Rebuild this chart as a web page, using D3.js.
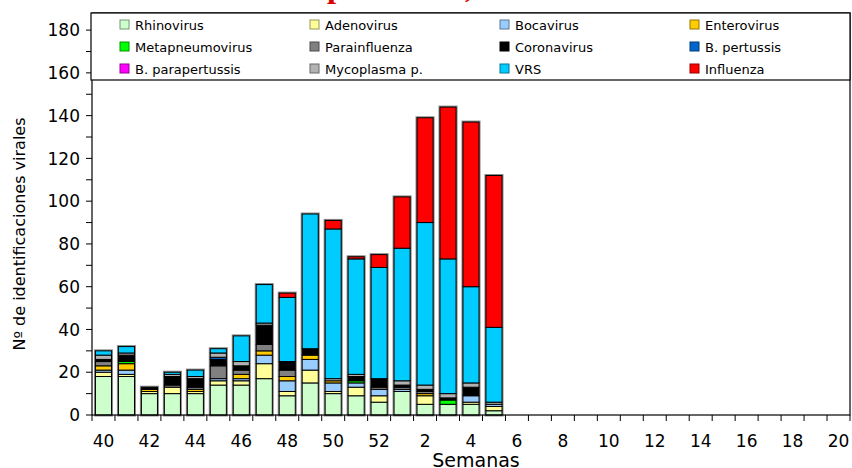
<!DOCTYPE html>
<html>
<head>
<meta charset="utf-8">
<script src="https://cdn.jsdelivr.net/npm/d3@7"></script>
<style>
  body { margin: 0; background: #fff; }
  svg { display: block; font-family: "DejaVu Sans", Verdana, sans-serif; }
</style>
</head>
<body>
<svg width="852" height="468"></svg>
<script>
// weeks on the axis (season 40 -> 20)
var weeks = [40,41,42,43,44,45,46,47,48,49,50,51,52,1,2,3,4,5,6,7,8,9,10,11,12,13,14,15,16,17,18,19,20];
var weekLabels = [40,42,44,46,48,50,52,2,4,6,8,10,12,14,16,18,20];

// counts per week, only weeks 40..5 have data
var rhinovirus      = [18,18,10,10,10,14,14,17, 9,15,10, 9, 6,11, 5, 5, 5, 2];
var adenovirus      = [ 2, 1, 1, 3, 1, 2, 2, 7, 2, 6, 1, 4, 3, 0, 4, 0, 1, 2];
var bocavirus       = [ 1, 2, 0, 0, 0, 1, 1, 4, 5, 5, 4, 2, 3, 1, 0, 0, 3, 1];
var enterovirus     = [ 2, 3, 1, 0, 1, 0, 2, 2, 2, 2, 1, 0, 0, 0, 1, 0, 0, 0];
var metapneumovirus = [ 0, 1, 0, 0, 0, 0, 0, 0, 0, 0, 0, 1, 0, 0, 0, 2, 0, 0];
var parainfluenza   = [ 2, 0, 0, 1, 1, 6, 2, 3, 3, 0, 0, 0, 1, 1, 1, 0, 0, 0];
var coronavirus     = [ 1, 3, 1, 4, 4, 3, 2, 9, 4, 3, 0, 2, 4, 1, 1, 1, 4, 0];
var pertussis       = [ 0, 0, 0, 0, 0, 1, 0, 0, 0, 0, 0, 0, 0, 0, 0, 0, 0, 0];
var parapertussis   = [ 0, 0, 0, 0, 0, 0, 0, 0, 0, 0, 0, 0, 0, 0, 0, 0, 0, 0];
var mycoplasma      = [ 2, 1, 0, 1, 1, 2, 2, 1, 0, 0, 1, 1, 0, 2, 2, 2, 2, 1];
var vrs             = [ 2, 3, 0, 1, 3, 2,12,18,30,63,70,54,52,62,76,63,45,35];
var influenza       = [ 0, 0, 0, 0, 0, 0, 0, 0, 2, 0, 4, 1, 6,24,49,71,77,71];

var seriesNames = ["Rhinovirus","Adenovirus","Bocavirus","Enterovirus","Metapneumovirus","Parainfluenza",
                   "Coronavirus","B. pertussis","B. parapertussis","Mycoplasma p.","VRS","Influenza"];
var seriesValues = [rhinovirus, adenovirus, bocavirus, enterovirus, metapneumovirus, parainfluenza,
                    coronavirus, pertussis, parapertussis, mycoplasma, vrs, influenza];
var colors = ["#ccffcc","#ffff99","#99ccff","#ffcc00","#00ff00","#808080",
              "#000000","#0066cc","#ff00ff","#b2b2b2","#00ccff","#ff0000"];

var svg = d3.select("svg");
var plotLeft = 92, plotRight = 850, plotTop = 13, plotBottom = 415;

// table for d3.stack
var table = rhinovirus.map(function(d, i) {
  var row = {week: weeks[i]};
  seriesNames.forEach(function(s, j) { row[s] = seriesValues[j][i]; });
  return row;
});
var layers = d3.stack().keys(seriesNames)(table);

var x = d3.scaleBand().domain(weeks).range([plotLeft, plotRight]).paddingInner(0.3).paddingOuter(0.15);
var xb = d3.scaleLinear().domain([0, weeks.length]).range([plotLeft, plotRight]); // category borders
var y = d3.scaleLinear().domain([0, 188]).range([plotBottom, plotTop]);

// title, cut off by the top of the picture: only the "p" tail and the comma show
var title = svg.append("text")
  .attr("y", -3)
  .attr("fill", "#dd0000")
  .style("font-family", "'Liberation Serif', serif")
  .style("font-weight", "bold")
  .style("font-size", "33px")
  .text("Detección de virus respiratorios, Comunidad de Madrid");
var tn = title.node();
var pIdx = 22, commaIdx = 32;
var span = tn.getStartPositionOfChar(commaIdx).x - tn.getStartPositionOfChar(pIdx).x;
title.style("font-size", (33 * 138 / span) + "px");
title.attr("x", 327 - tn.getStartPositionOfChar(pIdx).x);

// bar shadows
var tops = layers[layers.length - 1];
svg.append("g").selectAll("rect")
  .data(table)
  .enter().append("rect")
    .attr("x", function(d) { return x(d.week); })
    .attr("width", x.bandwidth())
    .attr("y", function(d, i) { return y(tops[i][1]); })
    .attr("height", function(d, i) { return plotBottom - y(tops[i][1]); })
    .attr("fill", "none")
    .attr("stroke", "#8a8a8a")
    .attr("stroke-width", 3);

// stacked segments
svg.append("g").selectAll("g")
  .data(layers)
  .enter().append("g")
    .attr("fill", function(d, i) { return colors[i]; })
  .selectAll("rect")
  .data(function(d) { return d.filter(function(e) { return e[1] > e[0]; }); })
  .enter().append("rect")
    .attr("x", function(d) { return x(d.data.week); })
    .attr("width", x.bandwidth())
    .attr("y", function(d) { return y(d[1]); })
    .attr("height", function(d) { return y(d[0]) - y(d[1]); })
    .attr("stroke", "#000")
    .attr("stroke-width", 1);

// frame
svg.append("rect")
  .attr("x", plotLeft).attr("y", plotTop)
  .attr("width", plotRight - plotLeft).attr("height", plotBottom - plotTop)
  .attr("fill", "none").attr("stroke", "#000").attr("stroke-width", 1.2);

// y axis
var yAxis = svg.append("g").attr("transform", "translate(" + plotLeft + ",0)");
yAxis.selectAll(".minor")
  .data(d3.range(0, 190, 10))
  .enter().append("line")
    .attr("x1", -6).attr("x2", 0)
    .attr("y1", function(d) { return y(d); }).attr("y2", function(d) { return y(d); })
    .attr("stroke", "#000");
yAxis.selectAll("text")
  .data(d3.range(0, 181, 20))
  .enter().append("text")
    .attr("x", -12)
    .attr("y", function(d) { return y(d); })
    .attr("dy", "0.36em")
    .attr("text-anchor", "end")
    .style("font-size", "17px")
    .text(function(d) { return d; });

// x axis
var xAxis = svg.append("g");
xAxis.selectAll("line")
  .data(d3.range(0, weeks.length + 1))
  .enter().append("line")
    .attr("x1", function(d) { return xb(d); }).attr("x2", function(d) { return xb(d); })
    .attr("y1", plotBottom).attr("y2", plotBottom + 6)
    .attr("stroke", "#000");
xAxis.selectAll("text")
  .data(weekLabels)
  .enter().append("text")
    .attr("x", function(d) { return x(d) + x.bandwidth() / 2; })
    .attr("y", 447)
    .attr("text-anchor", "middle")
    .style("font-size", "17px")
    .text(function(d) { return d; });

svg.append("text")
  .attr("x", 476).attr("y", 467)
  .attr("text-anchor", "middle")
  .style("font-size", "19px")
  .text("Semanas");

svg.append("text")
  .attr("transform", "translate(25,234) rotate(-90)")
  .attr("text-anchor", "middle")
  .style("font-size", "16px")
  .text("Nº de identificaciones virales");

// legend
var legend = svg.append("g");
legend.append("rect")
  .attr("x", 91).attr("y", plotTop)
  .attr("width", plotRight - 91).attr("height", 67)
  .attr("fill", "#fff").attr("stroke", "#000").attr("stroke-width", 1.2);
var item = legend.selectAll(".item")
  .data(seriesNames)
  .enter().append("g")
    .attr("transform", function(d, i) {
      return "translate(" + (120 + (i % 4) * 190) + "," + (25 + Math.floor(i / 4) * 22) + ")";
    });
item.append("rect")
  .attr("x", 0).attr("y", -5)
  .attr("width", 9).attr("height", 9)
  .attr("fill", function(d, i) { return colors[i]; })
  .attr("stroke", function(d, i) { return d3.color(colors[i]).darker(1.5); })
  .attr("stroke-width", 1);
item.append("text")
  .attr("x", 15).attr("y", 0)
  .attr("dy", "0.35em")
  .style("font-size", "13px")
  .text(function(d) { return d; });
</script>
</body>
</html>
